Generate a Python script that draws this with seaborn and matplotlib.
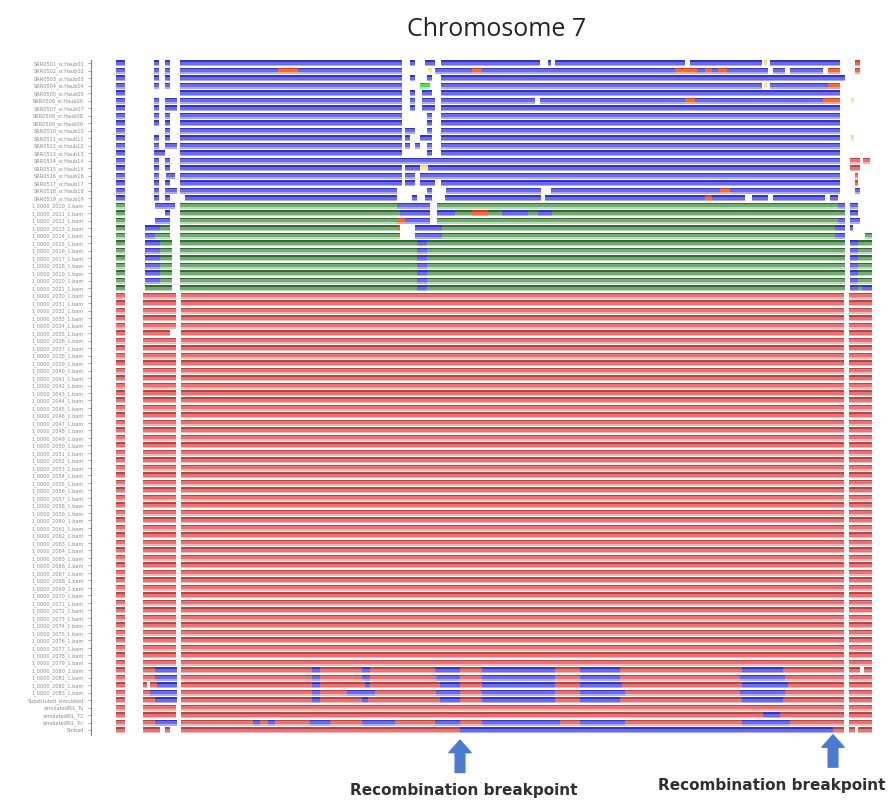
import numpy as np
import matplotlib
matplotlib.use("Agg")
import matplotlib.pyplot as plt
import seaborn as sns
from matplotlib.colors import ListedColormap

# rows per haplotype group, top to bottom
n_blue, n_green, n_red = 19, 12, 59

# marker positions along chromosome 7 (arbitrary units)
pos_min, pos_max = 91, 876

# colour codes: 0 missing, 1 blue, 2 green, 3 red, 4 orange, 5 lime, 6 yellow
blue_base = [(116, 125, 1), (180, 402, 1), (441, 840, 1)]
green_base = [(116, 125, 2), (180, 845, 2)]
red_base = [(116, 125, 3), (143, 176, 3), (181, 844, 3), (849, 872, 3)]

# deviations from the group pattern: (row in group, start, end, code)
blue_marks = [
    (0, 154, 159, 1), (0, 165, 170, 1), (0, 410, 415, 1), (0, 425, 435, 1),
    (0, 540, 548, 0), (0, 551, 555, 0), (0, 685, 690, 0), (0, 762, 770, 0),
    (0, 764, 767, 6), (0, 855, 860, 4),
    (1, 154, 159, 1), (1, 165, 170, 1), (1, 278, 298, 4), (1, 428, 432, 6),
    (1, 435, 441, 1), (1, 472, 482, 4), (1, 675, 697, 4), (1, 705, 712, 4),
    (1, 718, 727, 4), (1, 768, 773, 0), (1, 785, 790, 0), (1, 823, 828, 0),
    (1, 828, 840, 4), (1, 855, 860, 4),
    (2, 154, 159, 1), (2, 165, 170, 1), (2, 410, 415, 1), (2, 427, 432, 1),
    (2, 840, 845, 1),
    (3, 154, 159, 1), (3, 165, 170, 1), (3, 420, 430, 5), (3, 762, 770, 0),
    (3, 764, 767, 6), (3, 828, 840, 4),
    (4, 410, 415, 1), (4, 422, 432, 1),
    (5, 154, 159, 1), (5, 165, 177, 1), (5, 410, 415, 1), (5, 422, 435, 1),
    (5, 535, 540, 0), (5, 685, 695, 4), (5, 823, 840, 4), (5, 851, 854, 6),
    (6, 154, 159, 1), (6, 165, 177, 1), (6, 410, 415, 1), (6, 422, 435, 1),
    (7, 154, 159, 1), (7, 165, 170, 1), (7, 427, 432, 1),
    (8, 154, 159, 1), (8, 165, 170, 1), (8, 427, 432, 1),
    (9, 165, 170, 1), (9, 405, 415, 1), (9, 427, 432, 1),
    (10, 154, 159, 1), (10, 165, 170, 1), (10, 405, 410, 1), (10, 420, 432, 1),
    (10, 851, 854, 6),
    (11, 154, 159, 1), (11, 165, 177, 1), (11, 405, 410, 1), (11, 415, 420, 1),
    (11, 427, 432, 1),
    (12, 154, 165, 1), (12, 427, 432, 1),
    (13, 154, 159, 1), (13, 165, 170, 1), (13, 402, 441, 1), (13, 850, 860, 3),
    (13, 863, 870, 3),
    (14, 154, 159, 1), (14, 165, 170, 1), (14, 405, 420, 1), (14, 420, 428, 6),
    (14, 428, 441, 1), (14, 850, 860, 3),
    (15, 154, 159, 1), (15, 166, 175, 1), (15, 405, 415, 1), (15, 420, 441, 1),
    (15, 855, 858, 3),
    (16, 154, 159, 1), (16, 165, 170, 1), (16, 405, 415, 1), (16, 420, 435, 1),
    (16, 855, 858, 4),
    (17, 154, 159, 1), (17, 165, 177, 1), (17, 397, 402, 0), (17, 427, 432, 1),
    (17, 441, 446, 0), (17, 541, 551, 0), (17, 720, 730, 4), (17, 855, 860, 1),
    (18, 154, 159, 1), (18, 165, 170, 1), (18, 180, 185, 0), (18, 397, 402, 0),
    (18, 412, 417, 1), (18, 425, 432, 1), (18, 441, 445, 0), (18, 541, 545, 0),
    (18, 705, 712, 4), (18, 745, 752, 0), (18, 768, 773, 0), (18, 825, 830, 0),
    (18, 838, 840, 0),
]

green_marks = [
    (0, 155, 175, 1), (0, 397, 430, 1), (0, 430, 437, 0), (0, 838, 845, 1),
    (0, 850, 858, 1),
    (1, 165, 170, 1), (1, 400, 430, 1), (1, 430, 437, 0), (1, 437, 455, 1),
    (1, 472, 488, 4), (1, 502, 528, 1), (1, 538, 552, 1), (1, 850, 858, 1),
    (2, 155, 170, 1), (2, 397, 405, 4), (2, 405, 430, 1), (2, 430, 437, 0),
    (2, 838, 845, 1), (2, 850, 860, 1),
    (3, 145, 160, 1), (3, 160, 170, 2), (3, 397, 400, 4), (3, 400, 415, 0),
    (3, 415, 442, 1), (3, 835, 845, 1), (3, 850, 853, 1),
    (4, 145, 155, 1), (4, 155, 170, 2), (4, 400, 415, 0), (4, 415, 442, 1),
    (4, 835, 845, 1), (4, 865, 872, 2),
    (5, 145, 160, 1), (5, 160, 172, 2), (5, 417, 427, 1), (5, 850, 858, 1), (5, 858, 872, 2),
    (6, 145, 160, 1), (6, 160, 172, 2), (6, 417, 427, 1), (6, 850, 858, 1), (6, 858, 872, 2),
    (7, 145, 160, 1), (7, 160, 172, 2), (7, 417, 427, 1), (7, 850, 858, 1), (7, 858, 872, 2),
    (8, 145, 160, 1), (8, 160, 172, 2), (8, 417, 427, 1), (8, 850, 858, 1), (8, 858, 872, 2),
    (9, 145, 160, 1), (9, 160, 172, 2), (9, 417, 427, 1), (9, 850, 858, 1), (9, 858, 872, 2),
    (10, 145, 160, 1), (10, 160, 172, 2), (10, 417, 427, 1), (10, 850, 858, 1), (10, 858, 872, 2),
    (11, 145, 172, 2), (11, 417, 427, 1), (11, 850, 858, 1), (11, 858, 862, 2), (11, 862, 872, 1),
]

red_marks = [
    (5, 170, 176, 0),
    (50, 155, 177, 1), (50, 312, 320, 1), (50, 362, 370, 1), (50, 435, 460, 1),
    (50, 482, 555, 1), (50, 580, 620, 1), (50, 742, 783, 1), (50, 860, 864, 0),
    (51, 155, 177, 1), (51, 312, 320, 1), (51, 362, 370, 1), (51, 436, 460, 1),
    (51, 482, 555, 1), (51, 580, 620, 1), (51, 740, 785, 1),
    (52, 147, 150, 0), (52, 157, 177, 1), (52, 312, 320, 1), (52, 365, 370, 1),
    (52, 440, 460, 1), (52, 482, 555, 1), (52, 580, 622, 1), (52, 742, 788, 1),
    (53, 150, 177, 1), (53, 312, 320, 1), (53, 347, 375, 1), (53, 436, 460, 1),
    (53, 482, 555, 1), (53, 580, 625, 1), (53, 740, 785, 1),
    (54, 155, 177, 1), (54, 312, 320, 1), (54, 362, 368, 1), (54, 440, 460, 1),
    (54, 482, 555, 1), (54, 580, 620, 1), (54, 742, 783, 1),
    (56, 763, 780, 1),
    (57, 155, 177, 1), (57, 253, 260, 1), (57, 268, 275, 1), (57, 310, 330, 1),
    (57, 362, 395, 1), (57, 435, 460, 1), (57, 482, 560, 1), (57, 580, 625, 1),
    (57, 742, 790, 1),
    (58, 160, 165, 0), (58, 170, 181, 0), (58, 460, 833, 1), (58, 855, 858, 0),
]

blue_labels = [f"SRR05{i:02d}_sr.Haub{i:02d}" for i in range(1, 20)]
green_labels = [f"1_0000_{2010 + i}_1.bam" for i in range(12)]
red_labels = [f"1_0000_{2030 + i}_1.bam" for i in range(54)] + [
    "Substituted_simulated", "simulatedRIL_Tu", "simulatedRIL_T2",
    "simulatedRIL_Tri", "Sinbad"]

breakpoints = [460, 833]

palette = ["#ffffff",
           "#aaaaf6", "#6a6aee", "#3434c0",   # blue light / mid / dark
           "#b8dcb8", "#70ac70", "#336b33",   # green
           "#f7b4b4", "#ee7070", "#b04848",   # red
           "#f8a585", "#f06a45", "#d04020",   # orange
           "#a6f0a6", "#50e050", "#30c030",   # lime
           "#fbf6cc", "#f3eaa0", "#e8dc80"]   # yellow

# build the genotype matrix
n_rows = n_blue + n_green + n_red
codes = np.zeros((n_rows, pos_max - pos_min), dtype=int)
r0 = 0
for n, base, marks in [(n_blue, blue_base, blue_marks),
                       (n_green, green_base, green_marks),
                       (n_red, red_base, red_marks)]:
    for s, e, c in base:
        codes[r0:r0 + n, s - pos_min:e - pos_min] = c
    for r, s, e, c in marks:
        codes[r0 + r, s - pos_min:e - pos_min] = c
    r0 += n

# each row drawn as a shaded stripe (dark, mid, mid, light) plus a white gap
shades = [2, 1, 1, 0, -1]
sub = []
for r in range(n_rows):
    for sh in shades:
        if sh < 0:
            sub.append(np.zeros(codes.shape[1], dtype=int))
        else:
            sub.append(np.where(codes[r] > 0, 1 + 3 * (codes[r] - 1) + sh, 0))
img = np.array(sub)

fig = plt.figure(figsize=(8.93, 8.05), dpi=100)
ax = fig.add_axes([91 / 893, 1 - 734.75 / 805, 785 / 893, 674.5 / 805])
sns.heatmap(img, cmap=ListedColormap(palette), vmin=-0.5, vmax=len(palette) - 0.5,
            cbar=False, xticklabels=False, yticklabels=False, ax=ax)

ax.set_yticks(np.arange(n_rows) * len(shades) + 2)
ax.set_yticklabels(blue_labels + green_labels + red_labels, fontsize=3.6, color="#8a8a8a")
ax.tick_params(axis="y", length=2, width=0.6, color="#999999", pad=3)
ax.tick_params(axis="x", length=0)
for side in ["top", "right", "bottom"]:
    ax.spines[side].set_visible(False)
ax.spines["left"].set_visible(True)
ax.spines["left"].set_color("#808080")
ax.spines["left"].set_linewidth(0.8)

fig.text(497 / 893, 1 - 30 / 805, "Chromosome 7", ha="center", va="center",
         fontsize=18, color="#222222", family="Open Sans")

tips = [-0.008, 0.0]
text_y = [-0.082, -0.075]
for i, bp in enumerate(breakpoints):
    ax.annotate("", xy=(bp - pos_min, tips[i]), xytext=(bp - pos_min, tips[i] - 0.048),
                xycoords=("data", "axes fraction"), textcoords=("data", "axes fraction"),
                arrowprops=dict(width=7, headwidth=16, headlength=9, color="#4a7bd0"),
                annotation_clip=False)
ax.annotate("Recombination breakpoint", xy=(breakpoints[0] - pos_min + 4, text_y[0]),
            xycoords=("data", "axes fraction"), ha="center", va="center",
            fontsize=11, fontweight="bold", color="#303030", annotation_clip=False)
ax.annotate("Recombination breakpoint", xy=(885 - pos_min, text_y[1]),
            xycoords=("data", "axes fraction"), ha="right", va="center",
            fontsize=11, fontweight="bold", color="#303030", annotation_clip=False)

fig.savefig("out.png", dpi=100)
